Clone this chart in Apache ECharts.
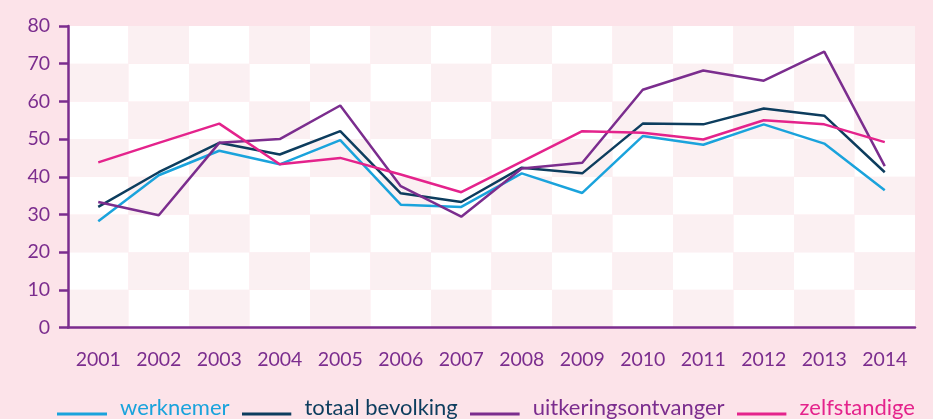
<!DOCTYPE html>
<html>
<head>
<meta charset="utf-8">
<script src="https://cdn.jsdelivr.net/npm/echarts@6/dist/echarts.min.js"></script>
<style>
html,body{margin:0;padding:0;background:#FCE3E9;}
#c{width:933px;height:419px;}
</style>
</head>
<body>
<div id="c"></div>
<script>
var years = ['2001','2002','2003','2004','2005','2006','2007','2008','2009','2010','2011','2012','2013','2014'];
var werknemer = [28.2, 40.4, 46.9, 43.3, 49.7, 32.6, 32.0, 40.9, 35.7, 50.8, 48.5, 53.9, 48.8, 36.4];
var totaalBevolking = [32.0, 41.2, 49.0, 45.9, 52.1, 35.6, 33.3, 42.4, 40.9, 54.1, 53.9, 58.1, 56.2, 41.2];
var uitkeringsontvanger = [33.3, 29.8, 49.0, 50.0, 58.9, 37.5, 29.4, 42.2, 43.7, 63.1, 68.2, 65.5, 73.2, 42.8];
var zelfstandige = [43.8, 49.0, 54.1, 43.3, 45.0, 40.6, 35.9, 44.0, 52.1, 51.7, 49.9, 55.0, 53.9, 49.2];
var yTicks = [0, 10, 20, 30, 40, 50, 60, 70, 80];

var names = ['werknemer', 'totaal bevolking', 'uitkeringsontvanger', 'zelfstandige'];
var colors = ['#1AA3DC', '#0D3D5E', '#7B2D8E', '#E4238C'];
var seriesData = [werknemer, totaalBevolking, uitkeringsontvanger, zelfstandige];

// checkerboard background cells (category index, band index)
var cells = [];
for (var i = 0; i < years.length; i++) {
  for (var j = 0; j < yTicks.length - 1; j++) {
    cells.push([i, j]);
  }
}

var purple = '#7B2D8E';
var font = 'Lato';

// legend icon: a short line sitting below the text's middle
function legendIcon(color) {
  var svg = '<svg xmlns="http://www.w3.org/2000/svg" width="50" height="26" viewBox="0 0 50 26">' +
    '<rect x="0" y="17.5" width="50" height="3" fill="' + color + '"/></svg>';
  return 'image://data:image/svg+xml;base64,' + btoa(svg);
}

var series = [{
  type: 'custom',
  silent: true,
  z: 0,
  data: cells,
  renderItem: function (params, api) {
    var i = api.value(0), j = api.value(1);
    var w = api.size([1, 0])[0];
    var p0 = api.coord([i, yTicks[j]]);
    var p1 = api.coord([i, yTicks[j + 1]]);
    var fill = ((i + j) % 2 === 0) ? '#FBF0F2' : '#FFFFFF';
    return {
      type: 'rect',
      shape: { x: p0[0] - w / 2, y: p1[1], width: w, height: p0[1] - p1[1] },
      style: { fill: fill }
    };
  }
}];
for (var k = 0; k < names.length; k++) {
  series.push({
    name: names[k],
    type: 'line',
    data: seriesData[k],
    symbol: 'none',
    z: 5,
    lineStyle: { color: colors[k], width: 2.5 },
    itemStyle: { color: colors[k] }
  });
}

var chart = echarts.init(document.getElementById('c'));
chart.setOption({
  backgroundColor: '#FCE3E9',
  animation: false,
  grid: { left: 68, right: 18, top: 26, bottom: 91.5 },
  legend: {
    left: 57,
    top: 395,
    padding: 0,
    itemWidth: 50,
    itemHeight: 26,
    itemGap: 12,
    textStyle: { fontFamily: font, fontSize: 22, padding: [0, 0, 0, 8] },
    data: names.map(function (n, idx) {
      return { name: n, icon: legendIcon(colors[idx]), textStyle: { color: colors[idx] } };
    })
  },
  xAxis: {
    type: 'category',
    data: years,
    boundaryGap: true,
    axisLine: { lineStyle: { color: purple, width: 2.5 } },
    axisTick: { alignWithLabel: true, length: 8, lineStyle: { color: purple, width: 2.5 } },
    axisLabel: { color: purple, fontFamily: font, fontSize: 19.5, margin: 22 },
    splitLine: { show: false }
  },
  yAxis: {
    type: 'value',
    min: 0,
    max: 80,
    interval: 10,
    axisLine: { show: true, lineStyle: { color: purple, width: 2.5 } },
    axisTick: { show: true, length: 9, lineStyle: { color: purple, width: 2.5 } },
    axisLabel: { color: purple, fontFamily: font, fontSize: 19.5, margin: 18 },
    splitLine: { show: false }
  },
  series: series
});
</script>
</body>
</html>
